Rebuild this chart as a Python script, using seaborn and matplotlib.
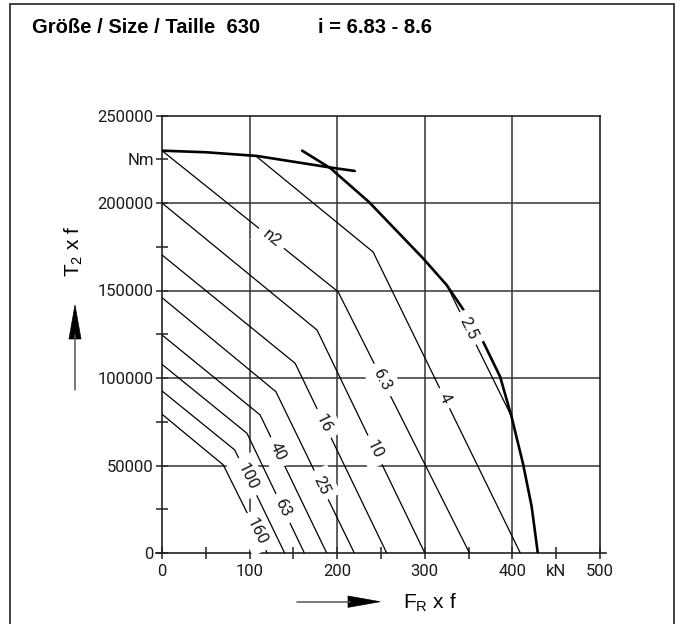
import numpy as np
import pandas as pd
import matplotlib
matplotlib.use("Agg")
import matplotlib.pyplot as plt
import seaborn as sns
from matplotlib.patches import Rectangle, Polygon
from matplotlib.lines import Line2D

# ---------------- data ----------------
speed_labels = ["160", "100", "63", "40", "25", "16", "10", "6.3", "4", "2.5"]
curve_F = [
    [0, 70, 120],
    [0, 83, 140],
    [0, 97, 162.5],
    [0, 112, 188],
    [0, 130, 219.5],
    [0, 152, 256.5],
    [0, 177, 300],
    [0, 201, 351],
    [108, 241, 409],
    [325, 399],
]
curve_T = [
    [79300, 50300, 0],
    [92600, 58900, 0],
    [107800, 68400, 0],
    [124600, 78900, 0],
    [145900, 92200, 0],
    [170300, 108400, 0],
    [200000, 127400, 0],
    [229900, 149300, 0],
    [226500, 172000, 0],
    [153100, 78000],
]
# torque level at which each speed label sits on its line
label_T = [12200, 43600, 25500, 57900, 38900, 74100, 58900, 98900, 88400, 128400]
n2_label_T = 179800  # "n2" label on the 6.3 line

# limit curves (thick)
env_F = [160, 192, 236, 298, 325, 361, 386, 399, 412, 422, 429]
env_T = [229900, 220000, 200700, 168400, 153100, 126500, 100700, 77900, 51300, 26500, 0]
top_F = [0, 50, 108, 192, 220]
top_T = [229900, 229000, 226900, 220300, 218300]

x_ticks = [0, 100, 200, 300, 400, 450, 500]
x_ticklabels = ["0", "100", "200", "300", "400", "kN", "500"]
x_minor = [50, 150, 250, 350]
y_ticks = [0, 50000, 100000, 150000, 200000, 225000, 250000]
y_ticklabels = ["0", "50000", "100000", "150000", "200000", "Nm", "250000"]
y_minor = [25000, 75000, 125000, 175000]
x_grid = [100, 200, 300, 400]
y_grid = [50000, 100000, 150000, 200000]

title_left = "Größe / Size / Taille  630"
title_right = "i = 6.83 - 8.6"

# ---------------- style ----------------
sns.set_theme(style="white")
plt.rcParams["font.family"] = ["Liberation Sans", "DejaVu Sans"]
plt.rcParams["mathtext.fontset"] = "custom"
plt.rcParams["mathtext.rm"] = "Liberation Sans"
TECH = ["Roboto", "Liberation Sans", "DejaVu Sans"]
TECH_W = "normal"
INK = "#1a1a1a"

W, H = 680, 624
fig = plt.figure(figsize=(W / 100, H / 100), dpi=100)
ax = fig.add_axes([162 / W, 1 - 553 / H, 438 / W, 437.5 / H])
ax.set_xlim(0, 500)
ax.set_ylim(0, 250000)

# grid
for gx in x_grid:
    ax.axvline(gx, color="#333333", lw=1.1, zorder=1)
for gy in y_grid:
    ax.axhline(gy, color="#333333", lw=1.1, zorder=1)

# thin speed lines
rows = []
for lab, fs, ts in zip(speed_labels, curve_F, curve_T):
    for i, (f, t) in enumerate(zip(fs, ts)):
        rows.append({"n": lab, "F": f, "T": t, "k": i})
df = pd.DataFrame(rows)
sns.lineplot(data=df, x="F", y="T", units="n", estimator=None, sort=False,
             color="black", linewidth=0.9, ax=ax, legend=False, zorder=3)

# thick limit curves
sns.lineplot(x=env_F, y=env_T, sort=False, estimator=None, color="black",
             linewidth=1.9, ax=ax, zorder=4)
sns.lineplot(x=top_F, y=top_T, sort=False, estimator=None, color="black",
             linewidth=1.9, ax=ax, zorder=4)


def place_label(text, fs, ts, tval):
    fs = np.asarray(fs, float)
    ts = np.asarray(ts, float)
    for i in range(len(fs) - 1):
        t0, t1 = ts[i], ts[i + 1]
        if min(t0, t1) <= tval <= max(t0, t1):
            frac = (tval - t0) / (t1 - t0)
            x = fs[i] + frac * (fs[i + 1] - fs[i])
            p0 = ax.transData.transform((fs[i], t0))
            p1 = ax.transData.transform((fs[i + 1], t1))
            ang = np.degrees(np.arctan2(p1[1] - p0[1], p1[0] - p0[0]))
            ax.text(x, tval, text, rotation=ang, rotation_mode="anchor",
                    ha="center", va="center", fontsize=12, family=TECH,
                    fontweight=TECH_W, color=INK, zorder=6,
                    bbox=dict(boxstyle="square,pad=0.4", fc="white", ec="none"))
            return


for lab, fs, ts, tv in zip(speed_labels, curve_F, curve_T, label_T):
    place_label(lab, fs, ts, tv)
place_label("n2", curve_F[7], curve_T[7], n2_label_T)

# spines / ticks
for s in ax.spines.values():
    s.set_visible(True)
    s.set_color("#222222")
    s.set_linewidth(1.2)
ax.set_xticks(x_ticks)
ax.set_xticklabels(x_ticklabels)
ax.set_xticks(x_minor, minor=True)
ax.set_yticks(y_ticks)
ax.set_yticklabels(y_ticklabels)
ax.set_yticks(y_minor, minor=True)
ax.tick_params(which="both", direction="inout", length=8, width=1.1,
               color="#222222", bottom=True, left=True, top=False, right=False)
ax.tick_params(axis="x", pad=4)
ax.tick_params(axis="y", pad=2)
for lbl in ax.get_xticklabels() + ax.get_yticklabels():
    lbl.set_family(TECH)
    lbl.set_fontweight(TECH_W)
    lbl.set_fontsize(12)
    lbl.set_color(INK)
ax.set_xlabel("")
ax.set_ylabel("")
ax.spines["bottom"].set_bounds(-7, 507)

# titles
fig.text(31.7 / W, 1 - 33.3 / H, title_left, fontsize=14.5, fontweight="bold",
         va="baseline", ha="left", color="black")
fig.text(318 / W, 1 - 33.3 / H, title_right, fontsize=14.5, fontweight="bold",
         va="baseline", ha="left", color="black")

# axis labels
fig.text(74 / W, 1 - 251 / H, r"T$_{\mathrm{2}}$ x f", rotation=90, fontsize=15,
         ha="center", va="center", color="black")
fig.text(403 / W, 1 - 603 / H, r"F$_{\mathrm{R}}$ x f", fontsize=15,
         ha="left", va="center", color="black")


def P(x, y):
    return (x / W, 1 - y / H)


# y arrow
fig.add_artist(Line2D([75 / W, 75 / W], [1 - 390 / H, 1 - 335 / H],
                      transform=fig.transFigure, color="#555555", lw=1.1))
fig.add_artist(Polygon([P(75, 305), P(69, 339), P(81, 339)], closed=True,
                       transform=fig.transFigure, fc="black", ec="black", lw=0.5))
# x arrow
fig.add_artist(Line2D([297 / W, 350 / W], [1 - 601.7 / H, 1 - 601.7 / H],
                      transform=fig.transFigure, color="#555555", lw=1.1))
fig.add_artist(Polygon([P(380, 601.7), P(348, 596), P(348, 607.4)], closed=True,
                       transform=fig.transFigure, fc="black", ec="black", lw=0.5))

# outer frame
fig.add_artist(Rectangle((10 / W, -0.01), (674 - 10) / W, 1 - 4 / H + 0.01,
                         transform=fig.transFigure, fill=False, ec="#333333", lw=1.3))

fig.savefig("out.png", dpi=100)
